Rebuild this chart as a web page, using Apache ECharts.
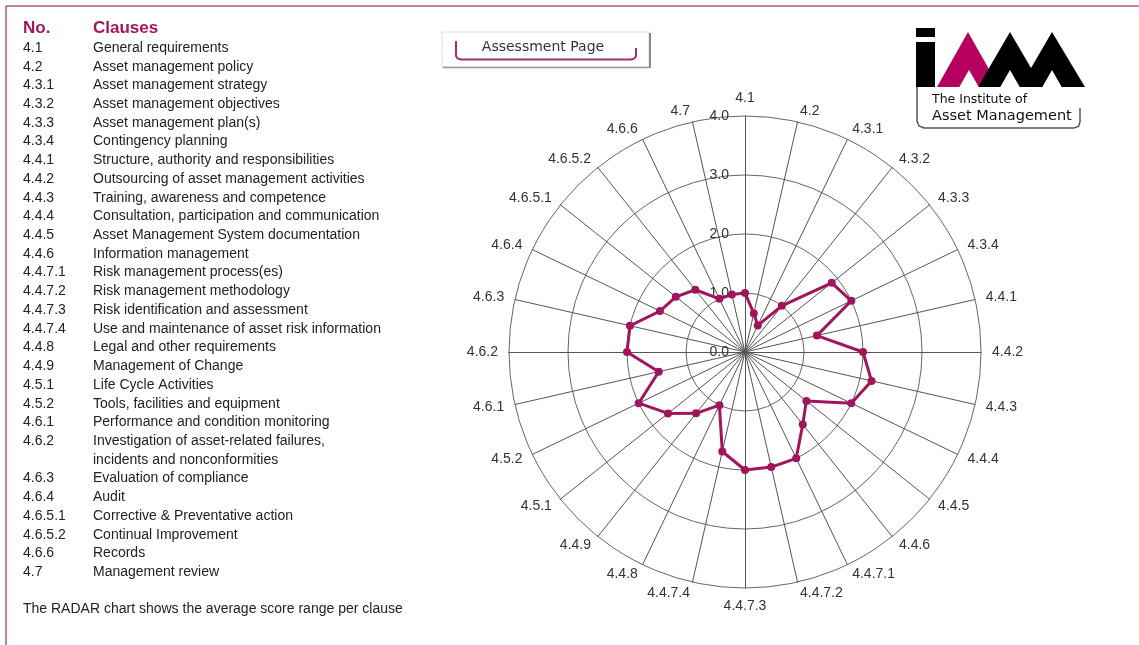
<!DOCTYPE html>
<html>
<head>
<meta charset="utf-8">
<script src="https://cdn.jsdelivr.net/npm/echarts@6/dist/echarts.min.js"></script>
<style>
  html, body { margin: 0; padding: 0; background: #fff; }
  #chart { width: 1139px; height: 645px; }
</style>
</head>
<body>
<div id="chart"></div>
<script>
// clause numbers (also the radar axes, clockwise from the top)
const clauseNos = ['4.1', '4.2', '4.3.1', '4.3.2', '4.3.3', '4.3.4', '4.4.1', '4.4.2', '4.4.3',
  '4.4.4', '4.4.5', '4.4.6', '4.4.7.1', '4.4.7.2', '4.4.7.3', '4.4.7.4', '4.4.8', '4.4.9',
  '4.5.1', '4.5.2', '4.6.1', '4.6.2', '4.6.3', '4.6.4', '4.6.5.1', '4.6.5.2', '4.6.6', '4.7'];

const clauseNames = ['General requirements', 'Asset management policy', 'Asset management strategy',
  'Asset management objectives', 'Asset management plan(s)', 'Contingency planning',
  'Structure, authority and responsibilities', 'Outsourcing of asset management activities',
  'Training, awareness and competence', 'Consultation, participation and communication',
  'Asset Management System documentation', 'Information management', 'Risk management process(es)',
  'Risk management methodology', 'Risk identification and assessment',
  'Use and maintenance of asset risk information', 'Legal and other requirements',
  'Management of Change', 'Life Cycle Activities', 'Tools, facilities and equipment',
  'Performance and condition monitoring',
  'Investigation of asset-related failures,\nincidents and nonconformities',
  'Evaluation of compliance', 'Audit', 'Corrective & Preventative action',
  'Continual Improvement', 'Records', 'Management review'];

// average score per clause
const avgScores = [1.0, 0.67, 0.5, 1.0, 1.88, 2.0, 1.25, 2.0, 2.2, 2.0, 1.33, 1.57, 2.0, 2.0,
  2.0, 1.73, 1.0, 1.33, 1.67, 2.0, 1.5, 2.0, 2.0, 1.6, 1.5, 1.35, 1.0, 1.0];

const scoreMax = 4;
const footNote = 'The RADAR chart shows the average score range per clause';

const purple = '#a3185c';
const txtFont = 'Liberation Sans, Arial, sans-serif';
const lineH = 18.72;

// echarts radar runs counter-clockwise, so keep the first axis on top and reverse the rest
const order = [0].concat(clauseNos.map((d, i) => i).slice(1).reverse());

const chart = echarts.init(document.getElementById('chart'));

function txt(x, y, text, font, fill, align) {
  return { type: 'text', x: x, y: y,
    style: { text: text, font: font, fill: fill || '#222', align: align || 'left', verticalAlign: 'middle', lineHeight: lineH } };
}

// left-hand clause list
const listItems = [];
let line = 0;
clauseNos.forEach((no, i) => {
  const rows = clauseNames[i].split('\n');
  const y = 48 + line * lineH;
  listItems.push(txt(23, y, no, '14px ' + txtFont));
  rows.forEach((r, k) => listItems.push(txt(93, y + k * lineH, r, '14px ' + txtFont)));
  line += rows.length;
});

const graphic = [
  // frame
  { type: 'line', shape: { x1: 6, y1: 6, x2: 1139, y2: 6 }, style: { stroke: '#b5548f', lineWidth: 1.5 } },
  { type: 'line', shape: { x1: 6, y1: 6, x2: 6, y2: 645 }, style: { stroke: '#b5548f', lineWidth: 1.5 } },
  // headings
  txt(23, 28, 'No.', 'bold 17px ' + txtFont, purple),
  txt(93, 28, 'Clauses', 'bold 17px ' + txtFont, purple),
  ...listItems,
  txt(23, 609, footNote, '14px ' + txtFont),
  // button
  { type: 'rect', shape: { x: 442, y: 32, width: 207, height: 35 }, style: { fill: '#fff', stroke: '#ddd', lineWidth: 1 } },
  { type: 'line', shape: { x1: 650, y1: 33, x2: 650, y2: 68 }, style: { stroke: '#888', lineWidth: 2 } },
  { type: 'line', shape: { x1: 443, y1: 67.5, x2: 650, y2: 67.5 }, style: { stroke: '#999', lineWidth: 1.5 } },
  { type: 'polyline', shape: { points: [[456, 41], [456, 56], [457.5, 58.5], [461, 59.5], [631, 59.5], [634.5, 58.5], [636, 56], [636, 48]] },
    style: { fill: null, stroke: '#a0306a', lineWidth: 2 } },
  txt(543, 47, 'Assessment Page', '14px DejaVu Sans, sans-serif', '#333', 'center'),
  // logo
  { type: 'rect', shape: { x: 916, y: 28, width: 19, height: 9 }, style: { fill: '#000' } },
  { type: 'rect', shape: { x: 916, y: 42, width: 19, height: 45 }, style: { fill: '#000' } },
  { type: 'polygon', shape: { points: [[937, 87], [968, 32], [999, 87]] }, style: { fill: '#b5005f' } },
  { type: 'polygon', shape: { points: [[978, 87], [1010, 32], [1031, 68], [1052, 32], [1085, 87]] }, style: { fill: '#000' } },
  { type: 'polygon', shape: { points: [[959, 87.5], [969, 70], [979, 87.5]] }, style: { fill: '#fff' } },
  { type: 'polygon', shape: { points: [[1000, 87.5], [1010, 70], [1020, 87.5]] }, style: { fill: '#fff' } },
  { type: 'polygon', shape: { points: [[1042, 87.5], [1052, 70], [1062, 87.5]] }, style: { fill: '#fff' } },
  { type: 'polyline', shape: { points: [[917, 87], [917, 121], [919, 126], [924, 128], [1074, 128], [1078.5, 126.5], [1080, 122], [1080, 108]] },
    style: { fill: null, stroke: '#555', lineWidth: 1.5 } },
  txt(932, 100, 'The Institute of', '12.5px DejaVu Sans, sans-serif', '#111'),
  txt(932, 116, 'Asset Management', '14.5px DejaVu Sans, sans-serif', '#111')
];

const option = {
  backgroundColor: '#fff',
  animation: false,
  graphic: graphic,
  radar: {
    center: [745, 352],
    radius: 236,
    startAngle: 90,
    shape: 'circle',
    splitNumber: 4,
    nameGap: 11,
    axisName: { color: '#333', fontSize: 14, fontFamily: txtFont },
    axisLine: { lineStyle: { color: '#555', width: 1 } },
    splitLine: { lineStyle: { color: '#666', width: 1 } },
    splitArea: { show: false },
    axisTick: { show: false },
    axisLabel: { show: false, color: '#333', fontSize: 14, fontFamily: txtFont, margin: 16,
      formatter: v => Number(v).toFixed(1) },
    indicator: order.map((k, i) => {
      const ind = { name: clauseNos[k], min: 0, max: scoreMax };
      if (i === 0) ind.axisLabel = { show: true };
      return ind;
    })
  },
  series: [{
    type: 'radar',
    symbol: 'circle',
    symbolSize: 8,
    lineStyle: { color: '#a0155c', width: 3 },
    itemStyle: { color: '#a0155c' },
    data: [{ value: order.map(k => avgScores[k]), name: 'Average score' }]
  }]
};

chart.setOption(option);
</script>
</body>
</html>
